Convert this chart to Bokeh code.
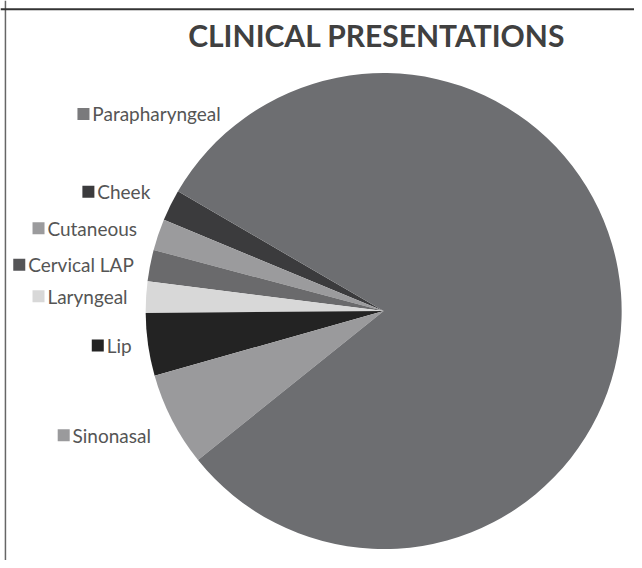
import math
from bokeh.plotting import figure
from bokeh.models import Range1d, Span, ColumnDataSource
from bokeh.core.properties import value
from bokeh.embed import file_html
from bokeh.resources import INLINE

# ---- data ----
categories = ["Cheek", "Cutaneous", "Cervical LAP", "Laryngeal", "Lip", "Sinonasal", "Parapharyngeal"]
counts = [1, 1, 1, 1, 2, 3, 38]
colors = ["#3b3b3d", "#9b9b9d", "#6a6a6c", "#d8d8d8", "#232323", "#9a9a9c", "#6d6e71"]
marker_colors = ["#3b3b3d", "#9b9b9d", "#555557", "#d8d8d8", "#232323", "#9a9a9c", "#7a7a7c"]
title_text = "CLINICAL PRESENTATIONS"

# ---- layout (reference-image pixel positions of label markers) ----
RW, RH = 642, 568
W, H = 634, 560
label_marker_x = [89, 38.5, 19, 38.5, 98.5, 64, 84]
label_y = [194, 231, 268, 300, 350, 441, 115]

start_deg = 149.8
cx, cy, r = 388, RH - 315, 241

total = sum(counts)
starts, ends = [], []
a = math.radians(start_deg)
for c in counts:
    starts.append(a)
    a += 2 * math.pi * c / total
    ends.append(a)

p = figure(width=W, height=H, output_backend="svg", toolbar_location=None,
           x_range=Range1d(0, RW), y_range=Range1d(0, RH),
           min_border=0, outline_line_color=None)
p.axis.visible = False
p.grid.visible = False
p.background_fill_color = "white"
p.border_fill_color = "white"

src = ColumnDataSource(dict(start=starts, end=ends, color=colors, cat=categories))
p.wedge(x=cx, y=cy, radius=r, start_angle="start", end_angle="end",
        fill_color="color", line_color=None, source=src)

lsrc = ColumnDataSource(dict(
    mx=label_marker_x,
    tx=[x + 9 for x in label_marker_x],
    y=[RH - y for y in label_y],
    mc=marker_colors,
    text=categories,
))
p.scatter(x="mx", y="y", marker="square", size=12, fill_color="mc",
          line_color=None, source=lsrc)
p.text(x="tx", y="y", text="text", source=lsrc, text_baseline="middle",
       text_align="left", text_font=value("Lato"), text_font_size="19px",
       text_color="#555555")

p.text(x=[381], y=[RH - 35], text=[title_text], text_baseline="middle",
       text_align="center", text_font=value("Lato"), text_font_style="bold",
       text_font_size="30px", text_color="#404040")

p.add_layout(Span(location=5, dimension="height", line_color="#666666", line_width=1.5))
p.add_layout(Span(location=RH - 9, dimension="width", line_color="#333333", line_width=2))

open("out.html", "w").write(file_html(p, INLINE))
